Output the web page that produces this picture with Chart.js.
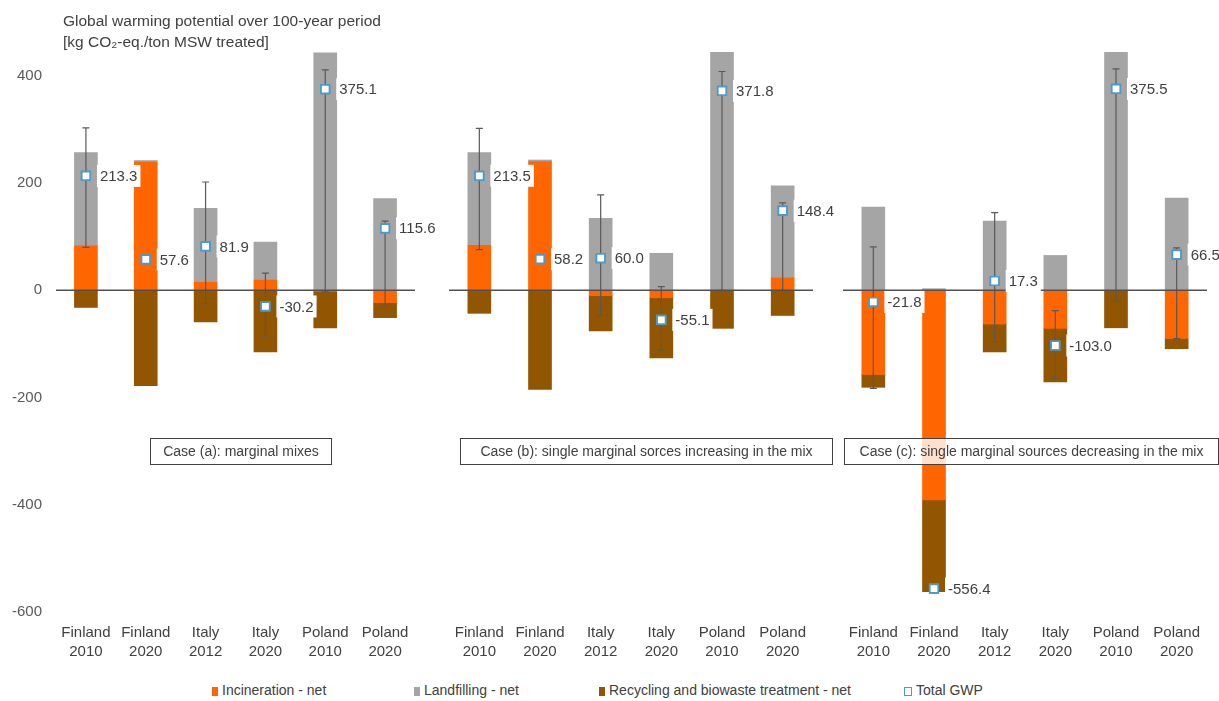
<!DOCTYPE html>
<html>
  <head>
    <meta charset="utf-8" />
    <title>Global warming potential</title>
    <script src="https://cdn.jsdelivr.net/npm/chart.js"></script>
    <style>
      body {
        margin: 0;
        width: 1219px;
        height: 701px;
        position: relative;
        overflow: hidden;
        background: #fff;
        font-family: "Liberation Sans", Arial, sans-serif;
        color: #404040;
      }
      .panel {
        position: absolute;
        top: 0;
        height: 670px;
      }
      #title {
        position: absolute;
        left: 63px;
        top: 10px;
        font-size: 15.5px;
        line-height: 21px;
        z-index: 2;
      }
      .casebox {
        position: absolute;
        top: 438px;
        height: 27px;
        border: 1.5px solid #404040;
        background: rgba(255, 255, 255, 0.8);
        font-size: 14px;
        line-height: 24px;
        text-align: center;
        box-sizing: border-box;
        z-index: 2;
      }
      .leg {
        position: absolute;
        top: 681px;
        font-size: 14px;
        line-height: 18px;
        white-space: nowrap;
      }
      .leg i {
        display: inline-block;
        width: 6px;
        height: 9px;
        margin-right: 4px;
        vertical-align: -1px;
      }
    </style>
  </head>
  <body>
    <div id="title">
      Global warming potential over 100-year period<br />[kg CO₂-eq./ton MSW treated]
    </div>

    <div class="panel" style="left: 0; width: 460px"><canvas id="chartA"></canvas></div>
    <div class="panel" style="left: 420px; width: 440px"><canvas id="chartB"></canvas></div>
    <div class="panel" style="left: 820px; width: 399px"><canvas id="chartC"></canvas></div>

    <div class="casebox" style="left: 150px; width: 182px">Case (a): marginal mixes</div>
    <div class="casebox" style="left: 460px; width: 373px">
      Case (b): single marginal sorces increasing in the mix
    </div>
    <div class="casebox" style="left: 844px; width: 375px">
      Case (c): single marginal sources decreasing in the mix
    </div>

    <div class="leg" style="left: 212px"><i style="background: #ff6600"></i>Incineration - net</div>
    <div class="leg" style="left: 414px"><i style="background: #a5a5a5"></i>Landfilling - net</div>
    <div class="leg" style="left: 599px">
      <i style="background: #925600"></i>Recycling and biowaste treatment - net
    </div>
    <div class="leg" style="left: 904px">
      <i style="background: #fff; border: 1.5px solid #4a9bc9; width: 6px; height: 7px"></i>Total GWP
    </div>

    <script>
      const categories = [
        ["Finland", "2010"],
        ["Finland", "2020"],
        ["Italy", "2012"],
        ["Italy", "2020"],
        ["Poland", "2010"],
        ["Poland", "2020"],
      ];

      // case (a): marginal mixes
      const incinA = [83, 239, 15, 19, -2, -23];
      const landA = [174, 3, 138, 71, 443, 171];
      const recycA = [-32, -178, -59, -115, -68, -28];
      const totalA = [213.3, 57.6, 81.9, -30.2, 375.1, 115.6];
      const errLowA = [80, null, -25, -85, -3, -29];
      const errHighA = [303, null, 202, 32, 411, 129];

      // case (b): single marginal sources increasing
      const incinB = [84, 240, -10, -14, 0, 23];
      const landB = [173, 3, 134, 69, 444, 172];
      const recycB = [-43, -185, -66, -112, -71, -47];
      const totalB = [213.5, 58.2, 60.0, -55.1, 371.8, 148.4];
      const errLowB = [76, null, -47, -111, 0, 0];
      const errHighB = [302, null, 178, 7, 408, 163];

      // case (c): single marginal sources decreasing
      const incinC = [-157, -391, -63, -71, 0, -90];
      const landC = [155, 3, 129, 65, 444, 172];
      const recycC = [-24, -171, -52, -100, -70, -19];
      const totalC = [-21.8, -556.4, 17.3, -103.0, 375.5, 66.5];
      const errLowC = [-183, null, -96, -165, -20, -90];
      const errHighC = [81, null, 145, -38, 413, 79];

      const yTicks = [-600, -400, -200, 0, 200, 400];

      const FONT = "'Liberation Sans', Arial, sans-serif";

      // error bars under the markers, zero line and value labels on top
      const extrasPlugin = {
        id: "extras",
        beforeDatasetDraw(chart, args) {
          if (args.index !== 3) return;
          const ctx = chart.ctx;
          const lo = chart.options.plugins.extras.low;
          const hi = chart.options.plugins.extras.high;
          const x = chart.scales.x;
          const y = chart.scales.y;
          ctx.save();
          ctx.strokeStyle = "#595959";
          ctx.lineWidth = 1.2;
          lo.forEach((l, i) => {
            if (l === null) return;
            const px = x.getPixelForValue(i);
            const y1 = y.getPixelForValue(l);
            const y2 = y.getPixelForValue(hi[i]);
            ctx.beginPath();
            ctx.moveTo(px, y1);
            ctx.lineTo(px, y2);
            ctx.moveTo(px - 3.5, y1);
            ctx.lineTo(px + 3.5, y1);
            ctx.moveTo(px - 3.5, y2);
            ctx.lineTo(px + 3.5, y2);
            ctx.stroke();
          });
          ctx.restore();
        },
        afterDatasetsDraw(chart) {
          const ctx = chart.ctx;
          const area = chart.chartArea;
          const y = chart.scales.y;
          const zero = y.getPixelForValue(0);
          ctx.save();
          ctx.strokeStyle = "#505050";
          ctx.lineWidth = 1.5;
          ctx.beginPath();
          ctx.moveTo(area.left, zero);
          ctx.lineTo(area.right, zero);
          ctx.stroke();

          const meta = chart.getDatasetMeta(3);
          const vals = chart.data.datasets[3].data;
          ctx.font = "15px " + FONT;
          ctx.textBaseline = "middle";
          meta.data.forEach((pt, i) => {
            const txt = vals[i].toFixed(1);
            const w = ctx.measureText(txt).width;
            const tx = pt.x + 14;
            ctx.fillStyle = "#fff";
            ctx.fillRect(tx - 3, pt.y - 11, w + 6, 22);
            ctx.fillStyle = "#404040";
            ctx.fillText(txt, tx, pt.y + 1);
          });
          // redraw markers so the label boxes never cover them
          meta.data.forEach((pt) => pt.draw(ctx));
          ctx.restore();
        },
      };

      function makePanel(id, incin, land, recyc, total, low, high, showY, padLeft, padRight) {
        const ctx = document.getElementById(id).getContext("2d");
        return new Chart(ctx, {
          type: "bar",
          data: {
            labels: categories,
            datasets: [
              { label: "Incineration - net", data: incin, backgroundColor: "#ff6600", stack: "s" },
              { label: "Landfilling - net", data: land, backgroundColor: "#a5a5a5", stack: "s" },
              {
                label: "Recycling and biowaste treatment - net",
                data: recyc,
                backgroundColor: "#925600",
                stack: "s",
              },
              {
                type: "line",
                label: "Total GWP",
                data: total,
                showLine: false,
                order: -1,
                pointStyle: "rect",
                pointRadius: 6,
                pointHoverRadius: 6,
                pointBackgroundColor: "#ffffff",
                pointBorderColor: "#4a9bc9",
                pointBorderWidth: 1.7,
              },
            ],
          },
          options: {
            responsive: true,
            maintainAspectRatio: false,
            animation: false,
            barThickness: 23,
            layout: { padding: { top: 49, bottom: 8, left: padLeft, right: padRight } },
            plugins: {
              legend: { display: false },
              tooltip: { enabled: false },
              extras: { low: low, high: high },
            },
            scales: {
              x: {
                stacked: true,
                grid: { display: false, drawTicks: false },
                border: { display: false },
                ticks: {
                  color: "#404040",
                  font: { size: 15, family: FONT, lineHeight: 1.27 },
                  padding: 11,
                  maxRotation: 0,
                  autoSkip: false,
                },
                afterFit(scale) {
                  scale.height = 50;
                },
              },
              y: {
                stacked: true,
                display: showY,
                min: -600,
                max: 450,
                afterBuildTicks(scale) {
                  scale.ticks = yTicks.map((v) => ({ value: v }));
                },
                grid: { display: false, drawTicks: false },
                border: { display: false },
                ticks: {
                  color: "#595959",
                  font: { size: 15, family: FONT },
                  padding: 14,
                },
                afterFit(scale) {
                  scale.width = showY ? 56 : 0;
                },
              },
            },
          },
          plugins: [extrasPlugin],
        });
      }

      makePanel("chartA", incinA, landA, recycA, totalA, errLowA, errHighA, true, 0, 45);
      makePanel("chartB", incinB, landB, recycB, totalB, errLowB, errHighB, false, 29, 47);
      makePanel("chartC", incinC, landC, recycC, totalC, errLowC, errHighC, false, 23, 12);
    </script>
  </body>
</html>
